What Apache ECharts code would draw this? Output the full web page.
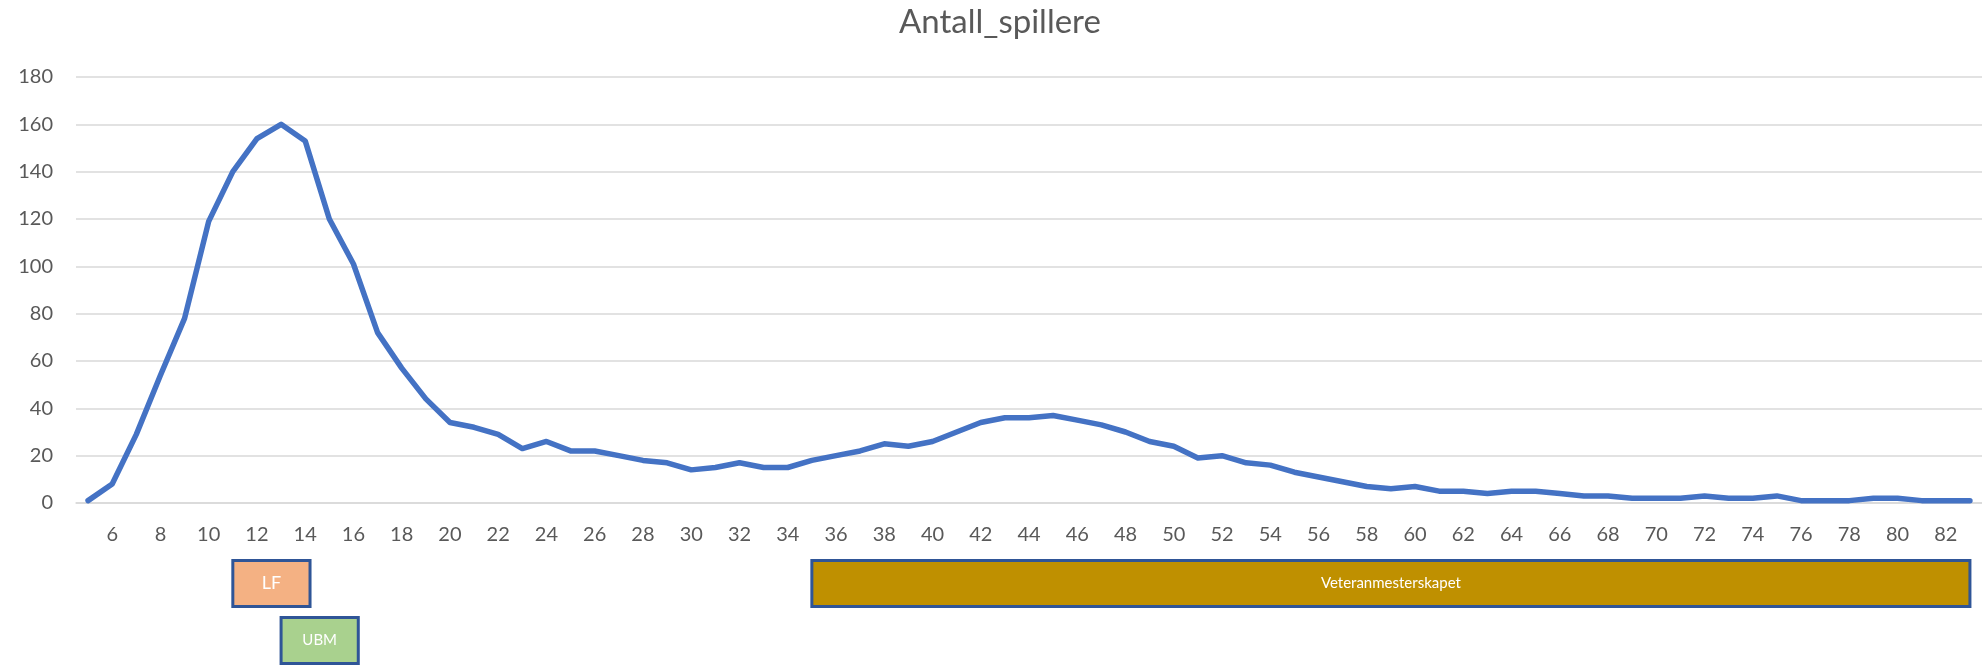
<!DOCTYPE html>
<html>
<head>
<meta charset="utf-8">
<title>Antall_spillere</title>
<script src="https://cdn.jsdelivr.net/npm/echarts@6/dist/echarts.min.js"></script>
<style>
  html, body { margin: 0; padding: 0; background: #fff; }
  #chart { width: 1982px; height: 669px; }
</style>
</head>
<body>
<div id="chart"></div>
<script>
// alder (5 - 83)
var ages = [];
for (var a = 5; a <= 83; a++) ages.push(String(a));

// antall spillere per alder
var players = [
  1, 8, 29, 54, 78, 119, 140, 154, 160, 153,      // 5-14
  120, 101, 72, 57, 44, 34, 32, 29, 23, 26,       // 15-24
  22, 22, 20, 18, 17, 14, 15, 17, 15, 15,         // 25-34
  18, 20, 22, 25, 24, 26, 30, 34, 36, 36,         // 35-44
  37, 35, 33, 30, 26, 24, 19, 20, 17, 16,         // 45-54
  13, 11, 9, 7, 6, 7, 5, 5, 4, 5,                 // 55-64
  5, 4, 3, 3, 2, 2, 2, 3, 2, 2,                   // 65-74
  3, 1, 1, 1, 2, 2, 1, 1, 1                       // 75-83
];

// turneringer (aldersspenn) under aksen
var eventNames = ['LF', 'UBM', 'Veteranmesterskapet'];
var eventStart = [11, 13, 35];
var eventEnd = [14.2, 16.2, 83];
var eventRow = [0, 1, 0];
var eventColors = ['#f4b183', '#a9d18e', '#bf9000'];
var eventFontSize = [18, 15, 15];

var eventData = eventNames.map(function (name, i) {
    return [eventStart[i], eventEnd[i], eventRow[i], name];
});

var myChart = echarts.init(document.getElementById('chart'));

var labelColor = '#595959';
var fontFamily = 'Lato, "Open Sans", sans-serif';

var option = {
    backgroundColor: '#ffffff',
    animation: false,
    title: {
        text: 'Antall_spillere',
        left: 899,
        top: 6,
        padding: 0,
        textStyle: {
            color: labelColor,
            fontSize: 33,
            fontWeight: 'normal',
            fontFamily: fontFamily
        }
    },
    grid: [
        { left: 76, width: 1908, top: 77, height: 426 },
        { left: 76, width: 1908, top: 555, height: 120 }
    ],
    xAxis: [
        {
            type: 'category',
            gridIndex: 0,
            data: ages,
            boundaryGap: true,
            axisTick: { show: false },
            axisLine: { lineStyle: { color: '#d9d9d9', width: 1.5 } },
            axisLabel: {
                interval: function (idx) { return idx % 2 === 1; },
                color: labelColor,
                fontSize: 20,
                fontFamily: fontFamily,
                margin: 22
            }
        },
        {
            type: 'value',
            gridIndex: 1,
            min: 4.5,
            max: 83.5,
            show: false
        }
    ],
    yAxis: [
        {
            type: 'value',
            gridIndex: 0,
            min: 0,
            max: 180,
            interval: 20,
            axisLine: { show: false },
            axisTick: { show: false },
            splitLine: { lineStyle: { color: '#d9d9d9', width: 1.5 } },
            axisLabel: {
                color: labelColor,
                fontSize: 20,
                fontFamily: fontFamily,
                margin: 23
            }
        },
        {
            type: 'value',
            gridIndex: 1,
            min: 0,
            max: 2,
            inverse: true,
            show: false
        }
    ],
    series: [
        {
            name: 'Antall_spillere',
            type: 'line',
            xAxisIndex: 0,
            yAxisIndex: 0,
            data: players,
            showSymbol: false,
            symbol: 'none',
            lineStyle: { color: '#4472c4', width: 5.5, cap: 'round', join: 'round' }
        },
        {
            type: 'custom',
            xAxisIndex: 1,
            yAxisIndex: 1,
            data: eventData,
            renderItem: function (params, api) {
                var row = api.value(2);
                var s = api.coord([api.value(0), row + 0.5]);
                var e = api.coord([api.value(1), row + 0.5]);
                var h = 46;
                return {
                    type: 'rect',
                    shape: { x: s[0], y: s[1] - h / 2, width: e[0] - s[0], height: h },
                    style: {
                        fill: eventColors[params.dataIndex],
                        stroke: '#2f5597',
                        lineWidth: 3
                    },
                    textContent: {
                        style: {
                            text: eventNames[params.dataIndex],
                            fill: '#ffffff',
                            fontSize: eventFontSize[params.dataIndex],
                            fontFamily: fontFamily
                        }
                    },
                    textConfig: { position: 'inside' }
                };
            }
        }
    ]
};

myChart.setOption(option);
</script>
</body>
</html>
